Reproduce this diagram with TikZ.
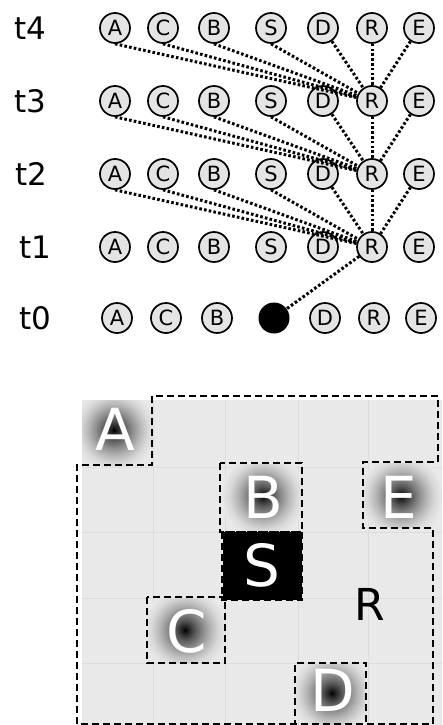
\documentclass[tikz,border=0pt]{standalone}
\usepackage{fontspec}
\setmainfont{DejaVu Sans}
\definecolor{cellgray}{HTML}{E9E9E9}
\definecolor{gridline}{HTML}{DCDCDC}
\definecolor{nodegray}{HTML}{E4E4E4}
\definecolor{glowa}{gray}{0.12}
\definecolor{glowb}{gray}{0.35}
\definecolor{glowc}{gray}{0.55}
\definecolor{glowd}{gray}{0.72}
\definecolor{glowe}{gray}{0.85}
\pgfdeclareradialshading{glow}{\pgfpoint{0bp}{0bp}}{color(0bp)=(black); color(1.8bp)=(glowa); color(6bp)=(glowb); color(10.7bp)=(glowc); color(15.5bp)=(glowd); color(20.2bp)=(glowe); color(25bp)=(cellgray); color(50bp)=(cellgray)}
\tikzset{
  st/.style={circle, draw, line width=1.7pt, fill=nodegray, minimum size=30pt, inner sep=0pt, font=\fontsize{21}{21}\selectfont},
  lab/.style={font=\fontsize{31}{31}\selectfont, inner sep=0pt},
  link/.style={line width=3pt, dash pattern=on 2.6pt off 2.2pt},
  dsh/.style={line width=2.8pt, dash pattern=on 7pt off 4pt},
  big/.style={font=\fontsize{58}{58}\selectfont, text=white, inner sep=0pt}
}
\begin{document}
\begin{tikzpicture}[x=1pt, y=-1pt]
\useasboundingbox (0,0) rectangle (442,725);
% row labels
\node[lab] (t4) at (30,28) {t4};
\node[lab] (t3) at (30,101) {t3};
\node[lab] (t2) at (31,174) {t2};
\node[lab] (t1) at (35,247) {t1};
\node[lab] (t0) at (35,318) {t0};
% rows of states
\foreach \r/\yy in {4/28,3/101,2/174,1/247}{
  \foreach \n/\xx in {A/115,C/163,B/214,S/271,D/323,R/372,E/419}{
    \node[st] (\n\r) at (\xx,\yy) {\n};
  }
}
\foreach \n/\xx in {A/117,C/166,B/217,D/325,R/374,E/421}{
  \node[st] (\n0) at (\xx,318) {\n};
}
\node[circle, fill=black, minimum size=31pt, inner sep=0pt] (S0) at (274,318) {};
% links
\foreach \r/\s in {4/3,3/2,2/1}{
  \foreach \n in {A,C,B,S}{
    \draw[link] (\n\r.south) -- (R\s);
  }
  \foreach \n in {D,R,E}{
    \draw[link] (\n\r) -- (R\s);
  }
}
\draw[link] (R1) -- (S0);
% grid
\fill[cellgray] (82,400) rectangle (442,725);
\foreach \xx in {153,225,298,368}{\draw[gridline, line width=1pt] (\xx,400) -- (\xx,725);}
\foreach \yy in {467,532,598,663}{\draw[gridline, line width=1pt] (82,\yy) -- (442,\yy);}
% glows
\begin{scope}\clip (82,400) rectangle (153,467); \shade[shading=glow] (114,430) circle (42);\end{scope}
\begin{scope}\clip (222,464) rectangle (301,532); \shade[shading=glow] (263,496) circle (42);\end{scope}
\begin{scope}\clip (364,463) rectangle (442,527); \shade[shading=glow] (401,496) circle (42);\end{scope}
\begin{scope}\clip (148,598) rectangle (224,662); \shade[shading=glow] (185,630) circle (42);\end{scope}
\begin{scope}\clip (296,664) rectangle (365,725); \shade[shading=glow] (332,693) circle (42);\end{scope}
% source cell
\fill[black] (223,532) rectangle (302,600);
% dashed regions
\draw[dsh] (77,724) -- (77,465) -- (152,465) -- (152,396) -- (438,396) -- (438,462) -- (363,462) -- (363,528) -- (433,528) -- (433,724) -- cycle;
\draw[dsh] (220,463) rectangle (302,532);
\draw[dsh] (222,532) rectangle (302,600);
\draw[dsh] (147,597) rectangle (225,663);
\draw[dsh] (295,727) -- (295,663) -- (366,663) -- (366,727);
% letters
\node[big] (LA) at (115,429) {A};
\node[big] (LB) at (263,497) {B};
\node[big] (LE) at (399,497) {E};
\node[big] (LS) at (262,565) {S};
\node[big] (LC) at (187,631) {C};
\node[big] (LD) at (333,690) {D};
\node[font=\fontsize{44}{44}\selectfont, inner sep=0pt] (LR) at (370,604) {R};
\end{tikzpicture}
\end{document}
